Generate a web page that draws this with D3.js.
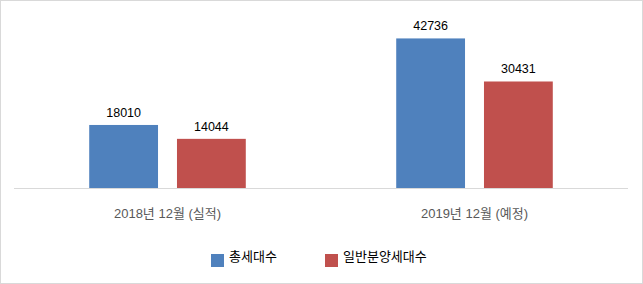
<!DOCTYPE html>
<html>
<head>
<meta charset="utf-8">
<script src="https://cdn.jsdelivr.net/npm/d3@7"></script>
<style>
    body { margin: 0; background: #fff; }
</style>
</head>
<body>
<div id="chart"></div>
<script>
const categories = ["2018년 12월 (실적)", "2019년 12월 (예정)"];
const seriesNames = ["총세대수", "일반분양세대수"];
const totalUnits = [18010, 42736];
const generalSaleUnits = [14044, 30431];
const seriesColors = ["#4F81BD", "#C0504D"];

const options = {
    width: 643,
    height: 284,
    plotLeft: 14,
    plotRight: 628,
    plotTop: 13,
    baseline: 188,
    yMax: 50000,
    font: "'Liberation Sans', 'Noto Sans CJK KR', sans-serif"
};

// rows for the grouped bars, one per category
const rows = categories.map((c, i) => ({
    category: c,
    values: [totalUnits[i], generalSaleUnits[i]]
}));

const svg = d3.select("#chart").append("svg")
    .attr("width", options.width)
    .attr("height", options.height)
    .style("font-family", options.font);

svg.append("rect")
    .attr("x", 0.5)
    .attr("y", 0.5)
    .attr("width", options.width - 1)
    .attr("height", options.height - 1)
    .attr("fill", "#fff")
    .attr("stroke", "#d9d9d9");

const x0 = d3.scaleBand()
    .domain(categories)
    .range([options.plotLeft, options.plotRight])
    .paddingInner(0.49)
    .paddingOuter(0.245);

const x1 = d3.scaleBand()
    .domain(d3.range(seriesNames.length))
    .range([0, x0.bandwidth()])
    .paddingInner(0.216);

const y = d3.scaleLinear()
    .domain([0, options.yMax])
    .range([options.baseline, options.plotTop]);

const groups = svg.append("g")
    .selectAll(null)
    .data(rows)
    .join("g")
    .attr("transform", d => `translate(${x0(d.category)},0)`);

groups.selectAll("rect")
    .data(d => d.values)
    .join("rect")
    .attr("x", (d, i) => x1(i))
    .attr("y", d => y(d))
    .attr("width", x1.bandwidth())
    .attr("height", d => y(0) - y(d))
    .attr("fill", (d, i) => seriesColors[i]);

groups.selectAll("text")
    .data(d => d.values)
    .join("text")
    .attr("x", (d, i) => x1(i) + x1.bandwidth() / 2)
    .attr("y", d => y(d) - 8)
    .attr("text-anchor", "middle")
    .attr("font-size", 12.5)
    .attr("fill", "#000")
    .text(d => d);

// category axis: baseline only, no ticks
const xAxis = svg.append("g")
    .attr("transform", `translate(0,${options.baseline})`)
    .call(d3.axisBottom(x0).tickSize(0).tickPadding(30));

xAxis.select(".domain")
    .attr("stroke", "#d9d9d9")
    .attr("d", `M${options.plotLeft},0.5H${options.plotRight}`);

xAxis.selectAll("text")
    .attr("font-family", options.font)
    .attr("font-size", 13)
    .attr("fill", "#595959")
    .attr("dy", 0);

// legend
const legendX = [211, 325];
const legend = svg.append("g")
    .selectAll(null)
    .data(seriesNames)
    .join("g")
    .attr("transform", (d, i) => `translate(${legendX[i]},254)`);

legend.append("rect")
    .attr("width", 13)
    .attr("height", 13)
    .attr("fill", (d, i) => seriesColors[i]);

legend.append("text")
    .attr("x", 18)
    .attr("y", 7)
    .attr("font-size", 13)
    .attr("fill", "#000")
    .text(d => d);
</script>
</body>
</html>
